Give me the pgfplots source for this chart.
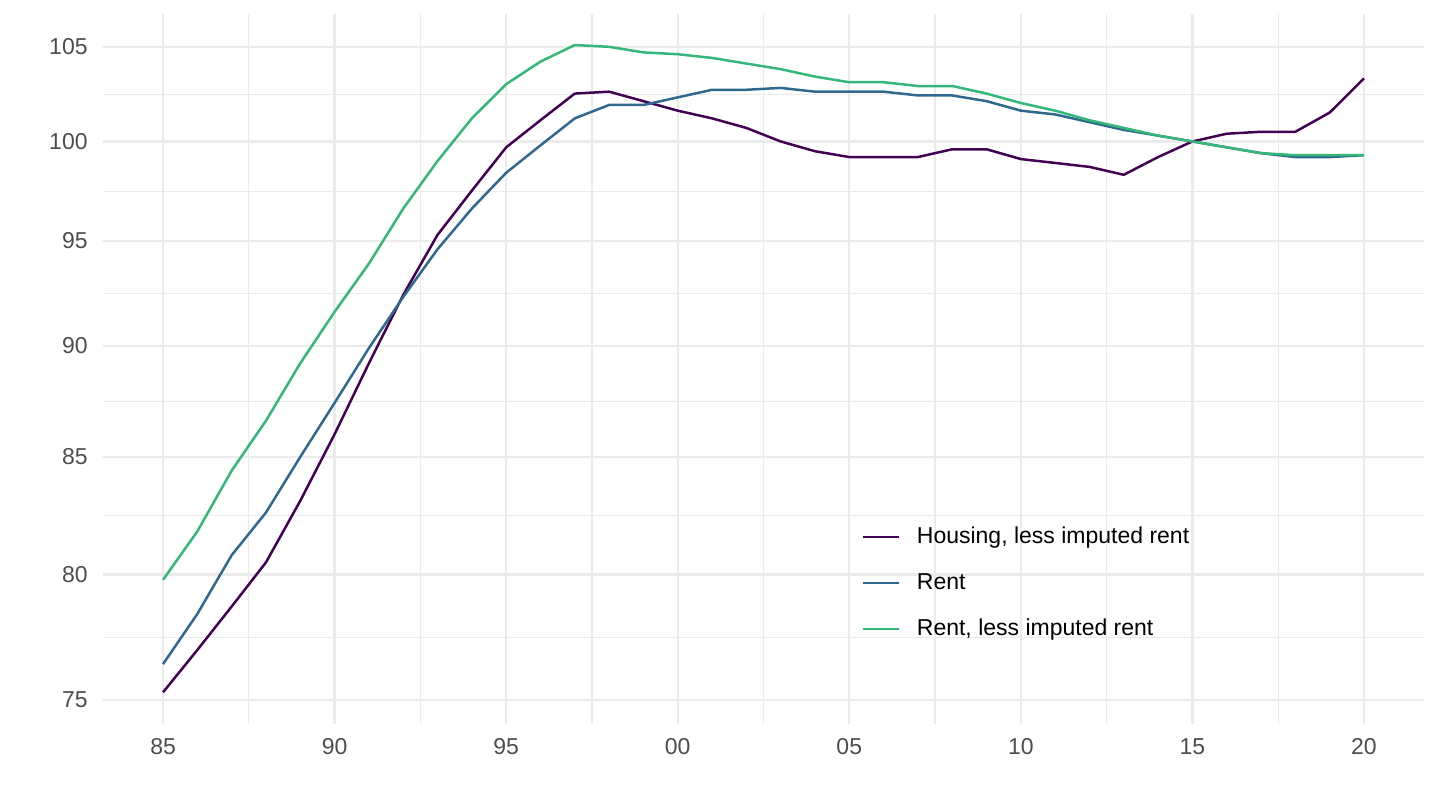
\documentclass[border=0pt]{standalone}
\usepackage{fontspec}
\setmainfont{Liberation Sans}
\usepackage{pgfplots}
\pgfplotsset{compat=1.18}
\usepackage{pgfplotstable}

\definecolor{vPurple}{HTML}{440154}
\definecolor{vBlue}{HTML}{31688E}
\definecolor{vGreen}{HTML}{35B779}
\definecolor{gridc}{HTML}{EBEBEB}
\definecolor{tickc}{HTML}{4D4D4D}

% year, housing less imputed rent, rent, rent less imputed rent
\pgfplotstableread{
year  housing rent  rentless
1985  75.3   76.4   79.8
1986  76.95  78.4   81.8
1987  78.7   80.8   84.4
1988  80.5   82.6   86.6
1989  83.1   85.0   89.2
1990  86.0   87.4   91.6
1991  89.2   89.9   93.9
1992  92.4   92.3   96.6
1993  95.3   94.6   99.0
1994  97.5   96.6   101.2
1995  99.7   98.4   103.0
1996  101.1  99.8   104.2
1997  102.5  101.2  105.1
1998  102.6  101.9  105.0
1999  102.1  101.9  104.7
2000  101.6  102.3  104.6
2001  101.2  102.7  104.4
2002  100.7  102.7  104.1
2003  100.0  102.8  103.8
2004  99.5   102.6  103.4
2005  99.2   102.6  103.1
2006  99.2   102.6  103.1
2007  99.2   102.4  102.9
2008  99.6   102.4  102.9
2009  99.6   102.1  102.5
2010  99.1   101.6  102.0
2011  98.9   101.4  101.6
2012  98.7   101.0  101.1
2013  98.3   100.6  100.7
2014  99.2   100.3  100.3
2015  100.0  100.0  100.0
2016  100.4  99.7   99.7
2017  100.5  99.4   99.4
2018  100.5  99.2   99.3
2019  101.5  99.2   99.3
2020  103.3  99.3   99.3
}\housingdata

\begin{document}
\begin{tikzpicture}
\useasboundingbox (-51.5pt,-43pt) rectangle (668.5pt,362pt);
\begin{axis}[
at={(0,0)}, anchor=south west,
scale only axis,
width=660.5pt, height=355pt,
xmin=1983.25, xmax=2021.75,
ymode=log,
ymin=74.08, ymax=106.8,
xtick={1985,1990,...,2020},
xticklabels={85,90,95,00,05,10,15,20},
minor xtick={1987.5,1992.5,...,2017.5},
ytick={75,80,85,90,95,100,105},
yticklabels={75,80,85,90,95,100,105},
minor ytick={77.46,82.46,87.46,92.47,97.47,102.47},
grid=both,
major grid style={draw=gridc, line width=1.2pt},
minor grid style={draw=gridc, line width=0.6pt},
axis line style={draw=none},
tick style={draw=none},
major tick length=0pt, minor tick length=0pt,
/pgf/number format/assume math mode=true,
ticklabel style={font=\fontsize{11.5}{13}\selectfont, text=tickc},
xticklabel style={anchor=north, inner sep=0pt, yshift=-7pt},
yticklabel style={anchor=east, inner sep=0pt, xshift=-7.5pt},
legend style={at={(axis description cs:0.5738,0.1972)}, anchor=west,
  draw=none, fill=none, inner sep=0pt,
  font=\fontsize{11.5}{13}\selectfont,
  row sep=12pt, column sep=8.5pt,
  nodes={inner sep=0pt, text height=8.5pt, text depth=2.5pt}},
legend cell align=left,
legend image code/.code={\draw[#1] (0pt,0.5pt) -- (18pt,0.5pt);},
every axis plot/.append style={line width=1.25pt, line join=round},
]
\addplot[color=vPurple] table[x=year, y=housing] {\housingdata};
\addplot[color=vBlue] table[x=year, y=rent] {\housingdata};
\addplot[color=vGreen] table[x=year, y=rentless] {\housingdata};
\legend{{Housing, less imputed rent},Rent,{Rent, less imputed rent}}
\end{axis}
\end{tikzpicture}
\end{document}
